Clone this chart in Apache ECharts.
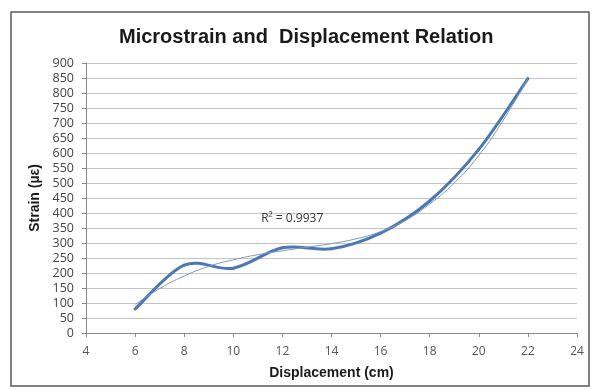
<!DOCTYPE html>
<html>
<head>
<meta charset="utf-8">
<script src="https://cdn.jsdelivr.net/npm/echarts@6/dist/echarts.min.js"></script>
<style>
html,body{margin:0;padding:0;background:#fff;}
#chart{width:600px;height:390px;}
</style>
</head>
<body>
<div id="chart"></div>
<script>
// Data
var displacement = [6, 8, 10, 12, 14, 16, 18, 20, 22];
var strain = [80, 226, 216, 284, 281, 333, 440, 612, 848];
// Polynomial trendline as it appears in the picture (read at each cm)
var trendX = [6, 7, 8, 9, 10, 11, 12, 13, 14, 15, 16, 17, 18, 19, 20, 21, 22];
var trendY = [95, 148, 190, 222, 244, 261, 274, 286, 298, 314, 338, 375, 430, 500, 592, 710, 848];
var r2Text = 'R² = 0.9937';
var r2Pos = [12.4, 383];
var xTicks = {min: 4, max: 24, interval: 2};
var yTicks = {min: 0, max: 900, interval: 50};

function pairs(xs, ys) { return xs.map(function (x, i) { return [x, ys[i]]; }); }

// Excel-style smoothed line: Catmull-Rom Bezier segments through the data points,
// positioned through the chart's own axes (api.coord).
function smoothSegment(xs, ys, color, width) {
  return function (params, api) {
    var i = params.dataIndex;
    var n = xs.length;
    if (i >= n - 1) return null;
    var P = function (k) {
      k = Math.max(0, Math.min(n - 1, k));
      return api.coord([xs[k], ys[k]]);
    };
    var p0 = P(i - 1), p1 = P(i), p2 = P(i + 1), p3 = P(i + 2);
    var c1 = [p1[0] + (p2[0] - p0[0]) / 6, p1[1] + (p2[1] - p0[1]) / 6];
    var c2 = [p2[0] - (p3[0] - p1[0]) / 6, p2[1] - (p3[1] - p1[1]) / 6];
    return {
      type: 'bezierCurve',
      shape: {x1: p1[0], y1: p1[1], x2: p2[0], y2: p2[1], cpx1: c1[0], cpy1: c1[1], cpx2: c2[0], cpy2: c2[1]},
      style: {fill: null, stroke: color, lineWidth: width, lineCap: 'round'}
    };
  };
}

var chart = echarts.init(document.getElementById('chart'), null, {renderer: 'canvas'});
var titleFont = 'Liberation Sans, Arial, sans-serif';
var labelFont = 'Open Sans, Liberation Sans, sans-serif';
chart.setOption({
  animation: false,
  backgroundColor: '#fff',
  title: {
    text: 'Microstrain and  Displacement Relation',
    left: 114,
    top: 22,
    textStyle: {fontFamily: titleFont, fontSize: 20, fontWeight: 'bold', color: '#1a1a1a'}
  },
  graphic: [{
    type: 'rect',
    shape: {x: 11, y: 12, width: 578, height: 374},
    style: {fill: 'none', stroke: '#5a5a5a', lineWidth: 1.5},
    silent: true
  }],
  grid: {left: 86, right: 23, top: 63, bottom: 57},
  xAxis: {
    type: 'value',
    min: xTicks.min, max: xTicks.max, interval: xTicks.interval,
    name: 'Displacement (cm)',
    nameLocation: 'middle',
    nameGap: 33,
    nameTextStyle: {fontFamily: titleFont, fontSize: 14, fontWeight: 'bold', color: '#1a1a1a'},
    axisLine: {lineStyle: {color: '#8a8a8a', width: 1}},
    axisTick: {show: true, length: 4, lineStyle: {color: '#8a8a8a'}},
    axisLabel: {fontFamily: labelFont, fontSize: 12, color: '#555', margin: 13},
    splitLine: {show: false}
  },
  yAxis: {
    type: 'value',
    min: yTicks.min, max: yTicks.max, interval: yTicks.interval,
    name: 'Strain (µε)',
    nameLocation: 'middle',
    nameGap: 43,
    nameTextStyle: {fontFamily: titleFont, fontSize: 14, fontWeight: 'bold', color: '#1a1a1a'},
    axisLine: {show: true, lineStyle: {color: '#8a8a8a', width: 1}},
    axisTick: {show: true, length: 4, lineStyle: {color: '#8a8a8a'}},
    axisLabel: {fontFamily: labelFont, fontSize: 12.5, color: '#444', margin: 12},
    splitLine: {show: true, lineStyle: {color: '#c4c4c4', width: 1}}
  },
  series: [
    {
      name: 'Strain',
      type: 'custom',
      data: pairs(displacement, strain),
      encode: {x: 0, y: 1},
      renderItem: smoothSegment(displacement, strain, '#4a78b4', 3),
      z: 3
    },
    {
      name: 'Trend',
      type: 'line',
      data: pairs(trendX, trendY),
      smooth: 0.5,
      showSymbol: false,
      lineStyle: {color: '#7f97bb', width: 1},
      z: 4,
      markPoint: {
        symbol: 'circle',
        symbolSize: 0,
        data: [{coord: r2Pos, value: r2Text}],
        label: {show: true, formatter: r2Text, fontFamily: labelFont, fontSize: 12, color: '#333', position: 'inside'}
      }
    }
  ]
});
</script>
</body>
</html>
